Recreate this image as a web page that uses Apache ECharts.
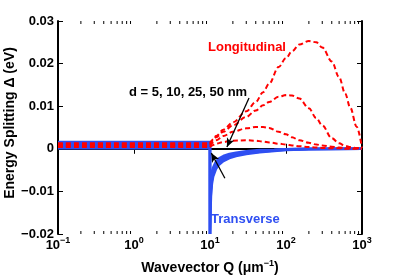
<!DOCTYPE html>
<html>
<head>
<meta charset="utf-8">
<script src="https://cdn.jsdelivr.net/npm/echarts@6/dist/echarts.min.js"></script>
<style>html,body{margin:0;padding:0;background:#fff;}#c{width:399px;height:277px;}</style>
</head>
<body>
<div id="c"></div>
<script>
// ---- data ----
const xTicks = [0.1, 1, 10, 100, 1000];
const yTicks = [-0.02, -0.01, 0, 0.01, 0.02, 0.03];
const minorTicks = [0.2,0.3,0.4,0.5,0.6,0.7,0.8,0.9, 2,3,4,5,6,7,8,9, 20,30,40,50,60,70,80,90, 200,300,400,500,600,700,800,900];

// Transverse (blue) curves, d = 5, 10, 25, 50 nm
const transQ = [0.1, 9.99, 10.0, 10.1, 10.3, 10.6, 11, 12, 13, 15, 18, 22, 30, 45, 70, 100, 200, 1000];
const transA = [0.0016, 0.0016, -0.02, -0.016, -0.011, -0.0082, -0.0065, -0.0047, -0.0038, -0.0029, -0.0022, -0.0017, -0.0012, -0.0008, -0.0005, -0.0003, -0.0001, 0];
const transB = [0.0011, 0.0011, -0.02, -0.014, -0.0098, -0.0073, -0.0058, -0.0042, -0.0033, -0.0025, -0.0019, -0.0014, -0.001, -0.0007, -0.0004, -0.0002, -0.0001, 0];
const transC = [0.0006, 0.0006, -0.02, -0.012, -0.0085, -0.0064, -0.0051, -0.0036, -0.0028, -0.0021, -0.0015, -0.0011, -0.0008, -0.0005, -0.0003, -0.0001, 0, 0];
const transD = [0.0001, 0.0001, -0.02, -0.0105, -0.0074, -0.0056, -0.0044, -0.003, -0.0023, -0.0017, -0.0012, -0.0009, -0.0006, -0.0003, -0.0002, -0.0001, 0, 0];

// Longitudinal (red dashed) curves
const longQ = [0.1, 9.9, 10, 11, 12, 15, 20, 30, 40, 50, 60, 80, 100, 120, 150, 200, 250, 300, 400, 500, 600, 700, 850, 1000];
const longA = [0.0013, 0.0013, 0.0013, 0.0022, 0.003, 0.0045, 0.0062, 0.0088, 0.011, 0.0133, 0.0153, 0.0192, 0.0213, 0.0229, 0.0245, 0.0253, 0.025, 0.0238, 0.0205, 0.0168, 0.013, 0.0097, 0.0052, 0.0002];
const longB = [0.001, 0.001, 0.001, 0.002, 0.0027, 0.004, 0.0055, 0.0075, 0.009, 0.0102, 0.011, 0.0122, 0.0126, 0.0125, 0.0118, 0.0095, 0.0072, 0.0055, 0.0025, 0.0013, 0.0007, 0.0004, 0.0002, 0.0001];
const longC = [0.0007, 0.0007, 0.0007, 0.0015, 0.002, 0.003, 0.004, 0.0048, 0.0051, 0.0051, 0.0049, 0.004, 0.0034, 0.0027, 0.002, 0.0014, 0.001, 0.0008, 0.0005, 0.0003, 0.0002, 0.0001, 0.0001, 0];
const longD = [0.0004, 0.0004, 0.0004, 0.0009, 0.0012, 0.0016, 0.0019, 0.002, 0.0019, 0.0017, 0.0015, 0.0012, 0.001, 0.0008, 0.0006, 0.0004, 0.0003, 0.0002, 0.0001, 0.0001, 0, 0, 0, 0];

// annotation arrows [from, to] in data coords
const arrowL = [[32.6, 0.0119], [16.7, 0.0004]];
const arrowT = [[15.7, -0.0069], [10.4, -0.001]];

const BLUE = '#2f4ff2';
const RED = '#ff0000';
const FONT = '"Liberation Sans", Arial, Helvetica, sans-serif';

function zip(q, v) { return q.map((x, i) => [x, v[i]]); }
function fmtY(v) {
  const r = Math.round(v * 100) / 100;
  if (r === 0) return '0';
  return (r < 0 ? '\u2212' : '') + Math.abs(r).toFixed(2);
}
function fmtX(v) {
  const e = Math.round(Math.log10(v));
  return '{b|10}{s|' + (e < 0 ? '\u2212' + (-e) : e) + '}';
}

const chart = echarts.init(document.getElementById('c'), null, {renderer: 'canvas'});
const yMin = yTicks[0], yMax = yTicks[yTicks.length - 1];

const blueSeries = [transA, transB, transC, transD].map(d => ({
  type: 'line', data: zip(transQ, d), showSymbol: false, symbol: 'none',
  lineStyle: {color: BLUE, width: 2.5}, z: 2, silent: true
}));
const redSeries = [longA, longB, longC, longD].map(d => ({
  type: 'line', data: zip(longQ, d), showSymbol: false, symbol: 'none',
  smooth: 0.35, smoothMonotone: 'x',
  lineStyle: {color: RED, width: 2, type: [5, 3]}, z: 3, silent: true
}));
redSeries[0].markLine = {
  silent: true, symbol: ['none', 'arrow'], symbolSize: [6, 9],
  label: {show: false},
  lineStyle: {color: '#000', width: 1.3, type: 'solid'},
  data: [
    [{coord: arrowL[0]}, {coord: arrowL[1]}],
    [{coord: arrowT[0]}, {coord: arrowT[1]}]
  ],
  animation: false
};

const tickSeries = {
  type: 'custom', data: minorTicks.map(q => [q, 0]), clip: false, silent: true, z: 5,
  renderItem: function (params, api) {
    const q = api.value(0);
    const pb = api.coord([q, yMin]);
    const pt = api.coord([q, yMax]);
    return {type: 'group', children: [
      {type: 'line', shape: {x1: pb[0], y1: pb[1], x2: pb[0], y2: pb[1] - 3}, style: {stroke: '#000', lineWidth: 1}},
      {type: 'line', shape: {x1: pt[0], y1: pt[1], x2: pt[0], y2: pt[1] + 3}, style: {stroke: '#000', lineWidth: 1}}
    ]};
  }
};

const axisLineStyle = {show: true, lineStyle: {color: '#000', width: 2}};
const tickStyle = {show: true, inside: true, length: 5, lineStyle: {color: '#000', width: 1}};

chart.setOption({
  animation: false,
  backgroundColor: '#fff',
  grid: {left: 58, right: 37, top: 21, bottom: 43, containLabel: false, outerBoundsMode: 'none'},
  xAxis: [{
    type: 'log', logBase: 10, min: xTicks[0], max: xTicks[xTicks.length - 1],
    position: 'bottom',
    axisLine: axisLineStyle, axisTick: tickStyle, splitLine: {show: false}, minorTick: {show: false},
    axisLabel: {
      formatter: fmtX, margin: 5, color: '#000',
      rich: {
        b: {fontFamily: FONT, fontWeight: 'bold', fontSize: 13, color: '#000', verticalAlign: 'bottom', lineHeight: 13},
        s: {fontFamily: FONT, fontWeight: 'bold', fontSize: 9, color: '#000', verticalAlign: 'bottom', lineHeight: 9, padding: [0, 0, 7, 0]}
      }
    },
    name: '{n|Wavevector Q (\u03bcm}{s|\u22121}{n|)}', nameLocation: 'middle', nameGap: 27,
    nameTextStyle: {
      rich: {
        n: {fontFamily: FONT, fontWeight: 'bold', fontSize: 14, color: '#000', verticalAlign: 'bottom', lineHeight: 14},
        s: {fontFamily: FONT, fontWeight: 'bold', fontSize: 9, color: '#000', verticalAlign: 'bottom', lineHeight: 9, padding: [0, 0, 7, 0]}
      }
    }
  }, {
    type: 'log', logBase: 10, min: xTicks[0], max: xTicks[xTicks.length - 1],
    position: 'top',
    axisLine: axisLineStyle, axisTick: tickStyle, axisLabel: {show: false}, splitLine: {show: false}
  }],
  yAxis: [{
    type: 'value', min: yMin, max: yMax, interval: 0.01, position: 'left',
    axisLine: axisLineStyle, axisTick: tickStyle, splitLine: {show: false},
    axisLabel: {formatter: fmtY, margin: 4, fontFamily: FONT, fontWeight: 'bold', fontSize: 13, color: '#000'}
  }, {
    type: 'value', min: yMin, max: yMax, interval: 0.01, position: 'right',
    axisLine: axisLineStyle, axisTick: tickStyle, axisLabel: {show: false}, splitLine: {show: false}
  }],
  graphic: [
    {type: 'text', x: 10, y: 123, rotation: Math.PI / 2, z: 10, style: {text: 'Energy Splitting \u0394 (eV)', font: 'bold 14px ' + FONT, fill: '#000', align: 'center', verticalAlign: 'middle'}},
    {type: 'text', x: 208, y: 47, z: 10, style: {text: 'Longitudinal', font: 'bold 13px ' + FONT, fill: RED, verticalAlign: 'middle'}},
    {type: 'text', x: 129, y: 92, z: 10, style: {text: 'd = 5, 10, 25, 50 nm', font: 'bold 13px ' + FONT, fill: '#000', verticalAlign: 'middle'}},
    {type: 'text', x: 211, y: 219, z: 10, style: {text: 'Transverse', font: 'bold 13px ' + FONT, fill: BLUE, verticalAlign: 'middle'}}
  ],
  series: [...blueSeries, ...redSeries, tickSeries]
});
</script>
</body>
</html>
